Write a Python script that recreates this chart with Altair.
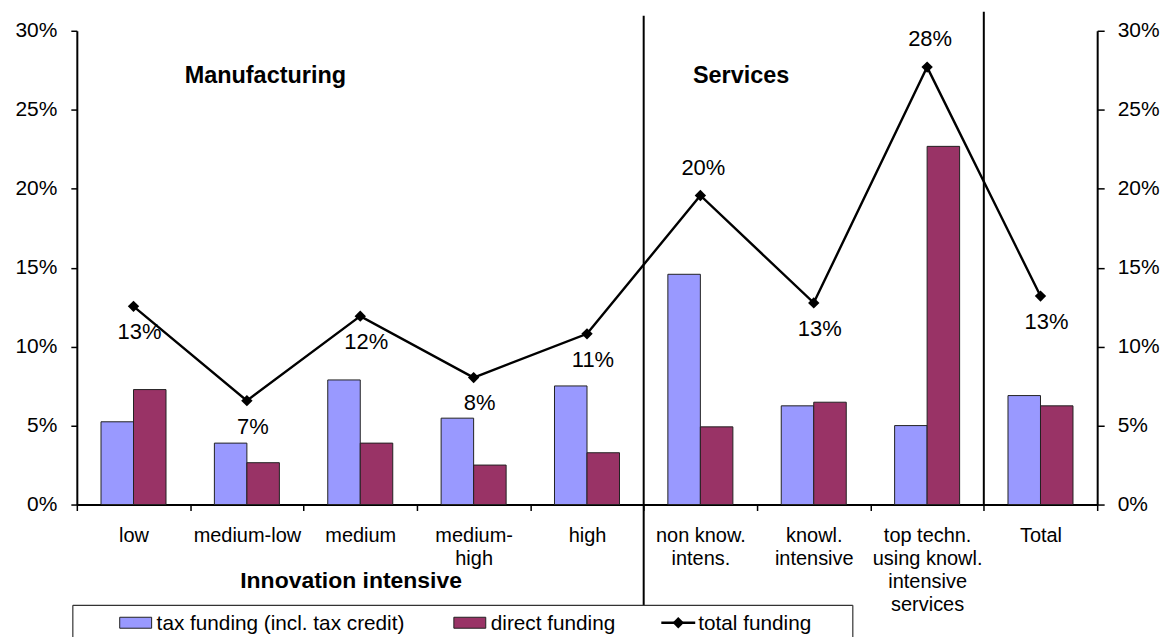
import altair as alt
import pandas as pd

# ---- data ----
categories = ["low", "medium-low", "medium", "medium-\nhigh", "high",
              "non know.\nintens.", "knowl.\nintensive",
              "top techn.\nusing knowl.\nintensive\nservices", "Total"]
tax_funding = [0.0524, 0.0389, 0.0789, 0.0547, 0.0751, 0.1458, 0.0625, 0.0500, 0.0690]
direct_funding = [0.0728, 0.0265, 0.0389, 0.0250, 0.0328, 0.0492, 0.0648, 0.2268, 0.0625]
total_funding = [0.1255, 0.0658, 0.1193, 0.0804, 0.1081, 0.1957, 0.1277, 0.2770, 0.1320]
label_pos = ["below", "below", "below", "below", "below", "above", "below", "above", "below"]
series_names = ["tax funding (incl. tax credit)", "direct funding"]
series_colors = ["#9999FF", "#993366"]
y_ticks = [0, 0.05, 0.10, 0.15, 0.20, 0.25, 0.30]
group_labels = ["Manufacturing", "Services", "Innovation intensive"]

FONT = "Liberation Sans, Arial, sans-serif"

bars_df = pd.DataFrame({
    "cat": categories * 2,
    "series": [series_names[0]] * len(categories) + [series_names[1]] * len(categories),
    "value": tax_funding + direct_funding,
})
line_df = pd.DataFrame({"cat": categories, "total": total_funding,
                        "pos": label_pos, "idx": list(range(len(categories)))})

x_scale = alt.Scale(domain=categories, paddingInner=0, paddingOuter=0)
y_dom = [0, 0.3]


def xenc(**kw):
    return alt.X("cat:N", sort=categories, scale=x_scale, title=None, **kw)


def yscale():
    return alt.Scale(domain=y_dom, nice=False, zero=True)


x_axis = alt.Axis(labelExpr="split(datum.label, '\\n')", labelAngle=0,
                  labelFontSize=20, labelLineHeight=23, labelPadding=15,
                  tickBand="extent", tickSize=6, tickWidth=1.5, tickColor="black",
                  domainColor="black", domainWidth=2, labelColor="black",
                  labelFont=FONT, labelOverlap=False, labelLimit=300,
                  labelBaseline="top", grid=False)

bars = alt.Chart(bars_df).mark_bar(stroke="#222222", strokeWidth=1).encode(
    x=xenc(axis=x_axis),
    xOffset=alt.XOffset("series:N", sort=series_names,
                        scale=alt.Scale(paddingInner=0, paddingOuter=0.744)),
    y=alt.Y("value:Q", scale=yscale(), title=None,
            axis=alt.Axis(orient="left", values=y_ticks, format=".0%", grid=False,
                          tickSize=6, tickWidth=1.5, tickColor="black",
                          domainColor="black", domainWidth=2,
                          labelFontSize=21, labelPadding=14, labelColor="black",
                          labelFont=FONT)),
    color=alt.Color("series:N", sort=series_names,
                    scale=alt.Scale(domain=series_names, range=series_colors),
                    legend=None),
)

line = alt.Chart(line_df).mark_line(color="black", strokeWidth=2.4).encode(
    x=xenc(),
    y=alt.Y("total:Q", scale=yscale(), title=None,
            axis=alt.Axis(orient="right", values=y_ticks, format=".0%", grid=False,
                          tickSize=7, tickWidth=1.5, tickColor="black",
                          domainColor="black", domainWidth=2,
                          labelFontSize=21, labelPadding=13, labelColor="black",
                          labelFont=FONT)),
    order="idx:Q",
)

points = alt.Chart(line_df).mark_point(shape="diamond", filled=True, color="black",
                                       size=130, opacity=1).encode(
    x=xenc(),
    y=alt.Y("total:Q", scale=yscale(), axis=None),
)

labels_below = alt.Chart(line_df).transform_filter(
    alt.datum.pos == "below").mark_text(
    font=FONT, fontSize=22, color="black", dx=6, dy=26, baseline="middle").encode(
    x=xenc(),
    y=alt.Y("total:Q", scale=yscale(), axis=None),
    text=alt.Text("total:Q", format=".0%"),
)
labels_above = alt.Chart(line_df).transform_filter(
    alt.datum.pos == "above").mark_text(
    font=FONT, fontSize=22, color="black", dx=3, dy=-28, baseline="middle").encode(
    x=xenc(),
    y=alt.Y("total:Q", scale=yscale(), axis=None),
    text=alt.Text("total:Q", format=".0%"),
)

sep1 = alt.Chart(pd.DataFrame({"cat": [categories[4]]})).mark_rule(
    color="black", strokeWidth=2).encode(
    x=xenc(bandPosition=1), y=alt.value(-15), y2=alt.value(576))
sep2 = alt.Chart(pd.DataFrame({"cat": [categories[7]]})).mark_rule(
    color="black", strokeWidth=2).encode(
    x=xenc(bandPosition=1), y=alt.value(-19), y2=alt.value(475))


def label(text, x, y, bold=True, size=23, align="center"):
    return alt.Chart(pd.DataFrame({"t": [text]})).mark_text(
        font=FONT, fontSize=size, fontWeight="bold" if bold else "normal",
        color="black", align=align, baseline="middle").encode(
        text="t:N", x=alt.value(x), y=alt.value(y))


manuf = label(group_labels[0], 189, 45, size=23.5)
serv = label(group_labels[1], 666, 45, size=23.5)
innov = label(group_labels[2], 275, 552, size=23)

# ---- legend (drawn as annotations) ----
box_top = alt.Chart(pd.DataFrame({"a": [0]})).mark_rule(color="#333333", strokeWidth=1.2).encode(
    x=alt.value(-4), x2=alt.value(778), y=alt.value(576))
box_left = alt.Chart(pd.DataFrame({"a": [0]})).mark_rule(color="#333333", strokeWidth=1.2).encode(
    x=alt.value(-4), y=alt.value(576), y2=alt.value(660))
box_right = alt.Chart(pd.DataFrame({"a": [0]})).mark_rule(color="#333333", strokeWidth=1.2).encode(
    x=alt.value(778), y=alt.value(576), y2=alt.value(660))

sw1 = alt.Chart(pd.DataFrame({"a": [0]})).mark_rect(
    fill=series_colors[0], stroke="#222222", strokeWidth=1).encode(
    x=alt.value(43), x2=alt.value(75), y=alt.value(588), y2=alt.value(599))
sw2 = alt.Chart(pd.DataFrame({"a": [0]})).mark_rect(
    fill=series_colors[1], stroke="#222222", strokeWidth=1).encode(
    x=alt.value(378), x2=alt.value(410), y=alt.value(588), y2=alt.value(599))
lg_line = alt.Chart(pd.DataFrame({"a": [0]})).mark_rule(color="black", strokeWidth=2.4).encode(
    x=alt.value(586), x2=alt.value(620), y=alt.value(593.5))
lg_pt = alt.Chart(pd.DataFrame({"a": [0]})).mark_point(
    shape="diamond", filled=True, color="black", size=130, opacity=1).encode(
    x=alt.value(603), y=alt.value(593.5))
lt1 = label(series_names[0], 80, 595, bold=False, size=20.8, align="left")
lt2 = label(series_names[1], 415, 595, bold=False, size=20.8, align="left")
lt3 = label("total funding", 623, 595, bold=False, size=20.8, align="left")

chart = alt.layer(
    bars, sep1, sep2, line, points, labels_below, labels_above,
    manuf, serv, innov,
    box_top, box_left, box_right, sw1, sw2, lg_line, lg_pt, lt1, lt2, lt3,
).resolve_scale(y="independent").properties(
    width=1023, height=475,
    autosize=alt.AutoSizeParams(type="none"),
    padding={"left": 69, "top": 22, "right": 70, "bottom": 145},
    background="white",
).configure_view(stroke=None)

chart.save("out.html", embed_options={"renderer": "svg", "actions": False})
